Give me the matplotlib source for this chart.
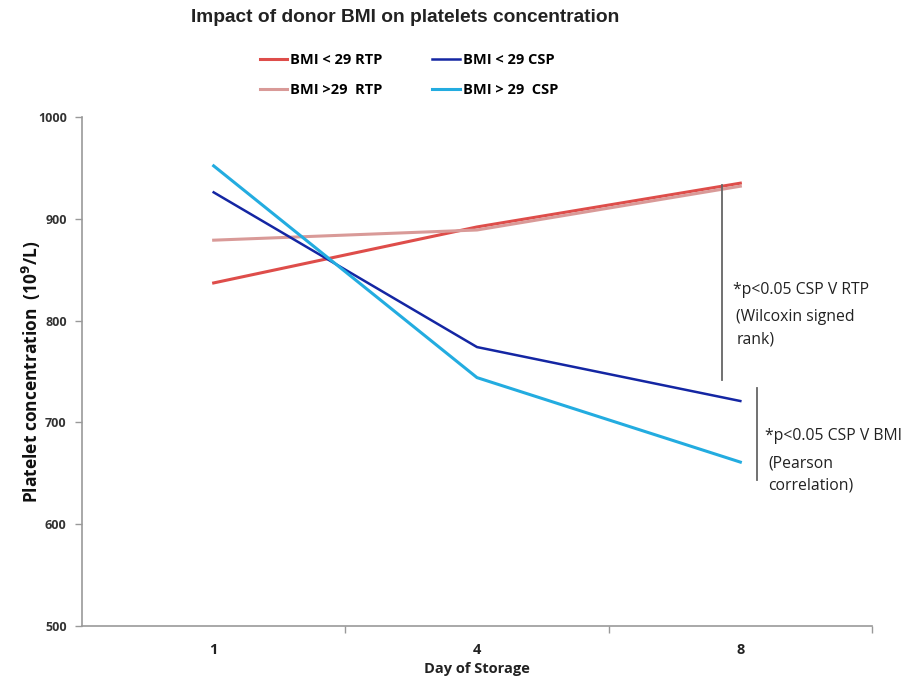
import numpy as np
import matplotlib
matplotlib.use("Agg")
import matplotlib.pyplot as plt

# ---------------------------
# Data
# ---------------------------
days = ["1", "4", "8"]
rtp_low_bmi = [837, 892, 935]     # BMI < 29 RTP
rtp_high_bmi = [879, 889, 932]    # BMI > 29 RTP
csp_low_bmi = [926, 774, 721]     # BMI < 29 CSP
csp_high_bmi = [952, 744, 661]    # BMI > 29 CSP
y_ticks = [500, 600, 700, 800, 900, 1000]

plt.rcParams["font.family"] = ["Open Sans", "DejaVu Sans"]

fig = plt.figure(figsize=(9.06, 6.84), dpi=100)
ax = fig.add_axes([82 / 906, 1 - 626 / 684, (872 - 82) / 906, (626 - 117) / 684])

x = np.arange(len(days))
l1, = ax.plot(x, rtp_low_bmi, color="#DE4D4A", lw=2.2, label="BMI < 29 RTP")
l2, = ax.plot(x, rtp_high_bmi, color="#D99A98", lw=2.2, label="BMI >29  RTP")
l3, = ax.plot(x, csp_low_bmi, color="#1426A3", lw=1.8, label="BMI < 29 CSP")
l4, = ax.plot(x, csp_high_bmi, color="#23ACE0", lw=2.2, label="BMI > 29  CSP")

ax.set_xlim(-0.5, 2.5)
ax.set_ylim(500, 1000)
ax.set_yticks(y_ticks)
ax.set_yticklabels([str(v) for v in y_ticks], fontsize=9, fontweight="bold", color="#333333")
ax.set_xticks(x)
ax.set_xticklabels(days, fontsize=10.5, fontweight="bold", color="#222222")
ax.tick_params(axis="x", length=0, pad=12)
ax.set_xticks([0.5, 1.5, 2.5], minor=True)
ax.tick_params(axis="x", which="minor", length=5, color="#999999", width=1)
ax.tick_params(axis="y", length=5, color="#999999", width=1, pad=6)

for s in ["top", "right"]:
    ax.spines[s].set_visible(False)
for s in ["left", "bottom"]:
    ax.spines[s].set_color("#999999")
    ax.spines[s].set_linewidth(1.2)

ax.set_xlabel("Day of Storage", fontsize=10.5, fontweight="bold", color="#222222", labelpad=4)
ax.set_ylabel(r"Platelet concentration  (10$^{\mathbf{9}}$/L)", fontsize=12.5,
              fontweight="bold", color="#111111", labelpad=-4)

# significance brackets
ax.plot([1.93, 1.93], [742, 933], color="#666666", lw=1.3)
ax.plot([2.063, 2.063], [643, 734], color="#666666", lw=1.3)
ann = dict(fontsize=11.3, va="center", color="#222222")
ax.text(1.972, 830, "*p<0.05 CSP V RTP", **ann)
ax.text(1.985, 804, "(Wilcoxin signed", **ann)
ax.text(1.985, 781, "rank)", **ann)
ax.text(2.093, 687, "*p<0.05 CSP V BMI", **ann)
ax.text(2.105, 660, "(Pearson", **ann)
ax.text(2.105, 638, "correlation)", **ann)

fig.text(405 / 906, 1 - 18 / 684, "Impact of donor BMI on platelets concentration",
         ha="center", va="center", fontsize=13.8, fontweight="bold", color="#222222",
         family=["Liberation Sans Narrow", "Liberation Sans", "DejaVu Sans"])

leg = fig.legend(handles=[l1, l2, l3, l4], ncol=2, loc="center",
                 bbox_to_anchor=(409 / 906, 1 - 75 / 684), frameon=False,
                 handlelength=1.9, handletextpad=0.2, columnspacing=3.4,
                 labelspacing=1.05, prop={"size": 10.5, "weight": "bold"})

fig.savefig("out.png", dpi=100)
